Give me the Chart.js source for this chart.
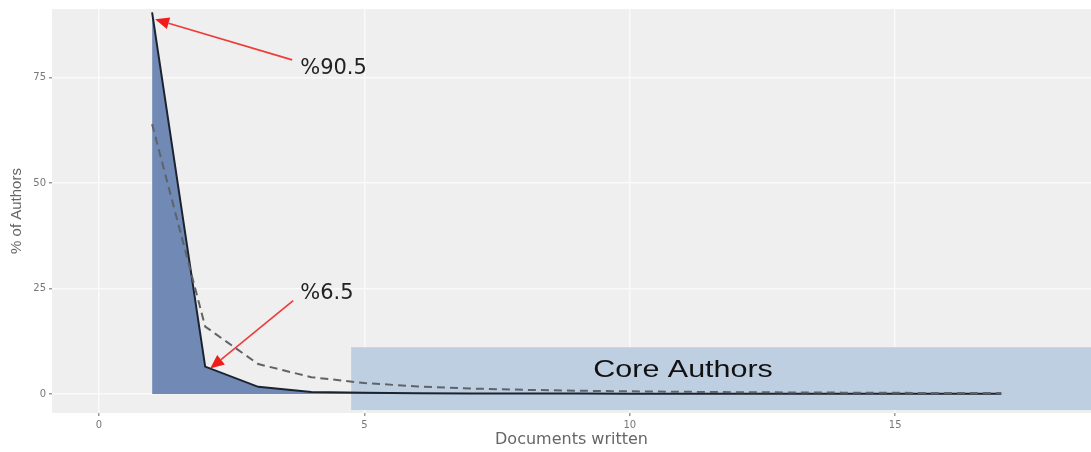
<!DOCTYPE html>
<html>
<head>
<meta charset="utf-8">
<script src="https://cdn.jsdelivr.net/npm/chart.js@4.4.1/dist/chart.umd.min.js"></script>
<style>
  html, body { margin: 0; padding: 0; background: #ffffff; }
  #wrap { width: 1091px; height: 452px; position: relative; }
</style>
</head>
<body>
<div id="wrap"><canvas id="chart" width="1091" height="452"></canvas></div>
<script>
// Number of documents written per author
const docs = [1, 2, 3, 4, 5, 6, 7, 8, 9, 10, 11, 12, 13, 14, 15, 16, 17];
// Observed share of authors (%)
const authorPct = [90.5, 6.5, 1.7, 0.5, 0.3, 0.2, 0.15, 0.12, 0.1, 0.08, 0.07, 0.06, 0.05, 0.05, 0.04, 0.04, 0.04];
// Expected share of authors (%)
const expectedPct = [64, 16, 7.1, 4.0, 2.6, 1.8, 1.3, 1.0, 0.79, 0.64, 0.53, 0.44, 0.38, 0.33, 0.28, 0.25, 0.22];
// Axis ticks
const xTicks = [0, 5, 10, 15];
const yTicks = [0, 25, 50, 75];

// Highlighted "core authors" band (data units)
const coreBand = { xMin: 4.75, yMin: -3.8, yMax: 11.1, label: 'Core Authors' };

// Callouts pointing at the first two observed values
const callouts = [
  { index: 0, labelX: 3.79, labelY: 77.1, tail: [-8, -9], tipOffset: [3, 7] },
  { index: 1, labelX: 3.79, labelY: 23.8, tail: [-7, 7], tipOffset: [5, 2] }
];

const observed = docs.map((d, i) => ({ x: d, y: authorPct[i] }));
const expected = docs.map((d, i) => ({ x: d, y: expectedPct[i] }));

const panelPlugin = {
  id: 'panel',
  beforeDraw(chart) {
    const { ctx, chartArea: a } = chart;
    ctx.save();
    ctx.fillStyle = '#efefef';
    ctx.fillRect(a.left, a.top, a.right - a.left, a.bottom - a.top);
    ctx.restore();
  },
  beforeDatasetsDraw(chart) {
    const { ctx, chartArea: a, scales: { x, y } } = chart;
    const left = x.getPixelForValue(coreBand.xMin);
    const top = y.getPixelForValue(coreBand.yMax);
    const bottom = y.getPixelForValue(coreBand.yMin);
    ctx.save();
    ctx.fillStyle = '#bfcfe2';
    ctx.fillRect(left, top, a.right - left, bottom - top);
    ctx.restore();
  },
  afterDatasetsDraw(chart) {
    const { ctx, chartArea: a, scales: { x, y } } = chart;
    // band label, drawn horizontally stretched
    const left = x.getPixelForValue(coreBand.xMin);
    const top = y.getPixelForValue(coreBand.yMax);
    ctx.save();
    ctx.fillStyle = '#111111';
    ctx.font = '24px "Liberation Sans", Arial, sans-serif';
    ctx.textAlign = 'center';
    ctx.textBaseline = 'alphabetic';
    ctx.translate((left + a.right) / 2 - 38, top + 30);
    ctx.scale(1.27, 1);
    ctx.fillText(coreBand.label, 0, 0);
    ctx.restore();

    // callout arrows
    ctx.save();
    callouts.forEach(c => {
      const px = x.getPixelForValue(docs[c.index]) + c.tipOffset[0];
      const py = y.getPixelForValue(authorPct[c.index]) + c.tipOffset[1];
      const lx = x.getPixelForValue(c.labelX);
      const ly = y.getPixelForValue(c.labelY);
      const tx = lx + c.tail[0];
      const ty = ly + c.tail[1];
      const ang = Math.atan2(py - ty, px - tx);
      const headLen = 14, headW = 6;
      const bx = px - headLen * Math.cos(ang);
      const by = py - headLen * Math.sin(ang);
      ctx.strokeStyle = '#f03a3a';
      ctx.lineWidth = 1.6;
      ctx.beginPath();
      ctx.moveTo(tx, ty);
      ctx.lineTo(bx, by);
      ctx.stroke();
      ctx.fillStyle = '#f01c1c';
      ctx.beginPath();
      ctx.moveTo(px, py);
      ctx.lineTo(bx + headW * Math.sin(ang), by - headW * Math.cos(ang));
      ctx.lineTo(bx - headW * Math.sin(ang), by + headW * Math.cos(ang));
      ctx.closePath();
      ctx.fill();

      ctx.fillStyle = '#222222';
      ctx.font = '21px "DejaVu Sans", Verdana, sans-serif';
      ctx.textAlign = 'left';
      ctx.textBaseline = 'middle';
      ctx.fillText('%' + authorPct[c.index], lx, ly);
    });
    ctx.restore();
  }
};

new Chart(document.getElementById('chart'), {
  type: 'line',
  data: {
    datasets: [
      {
        label: 'Observed',
        data: observed,
        borderColor: '#1c2330',
        borderWidth: 2,
        backgroundColor: '#7189b5',
        fill: 'origin',
        pointRadius: 0,
        tension: 0,
        order: 2
      },
      {
        label: 'Expected',
        data: expected,
        borderColor: '#5f6368',
        borderWidth: 2,
        borderDash: [8, 5],
        fill: false,
        pointRadius: 0,
        tension: 0,
        order: 1
      }
    ]
  },
  options: {
    responsive: false,
    animation: false,
    layout: { padding: { top: 7, right: 0, left: 0, bottom: 0 } },
    plugins: { legend: { display: false }, tooltip: { enabled: false } },
    scales: {
      x: {
        type: 'linear',
        min: -0.886,
        max: 18.69,
        afterBuildTicks(s) { s.ticks = xTicks.map(v => ({ value: v })); },
        afterFit(s) { s.height = 39; },
        grid: { color: '#fafafa', lineWidth: 1.5, tickColor: '#999999', tickLength: 3 },
        border: { display: false },
        ticks: { color: '#777777', font: { family: '"DejaVu Sans", Verdana, sans-serif', size: 10 }, padding: 3, maxRotation: 0 },
        title: { display: true, text: 'Documents written', color: '#666666', font: { family: '"DejaVu Sans", Verdana, sans-serif', size: 16 }, padding: { top: 0, bottom: 3 } }
      },
      y: {
        type: 'linear',
        min: -4.5,
        max: 91.3,
        afterBuildTicks(s) { s.ticks = yTicks.map(v => ({ value: v })); },
        afterFit(s) { s.width = 52; },
        grid: { color: '#fafafa', lineWidth: 1.5, tickColor: '#999999', tickLength: 3 },
        border: { display: false },
        ticks: { color: '#777777', font: { family: '"DejaVu Sans", Verdana, sans-serif', size: 10 }, padding: 3 },
        title: { display: true, text: '% of Authors', color: '#666666', font: { family: '"Liberation Sans", Arial, sans-serif', size: 15 }, padding: { top: 8, bottom: 0 } }
      }
    }
  },
  plugins: [panelPlugin]
});
</script>
</body>
</html>
